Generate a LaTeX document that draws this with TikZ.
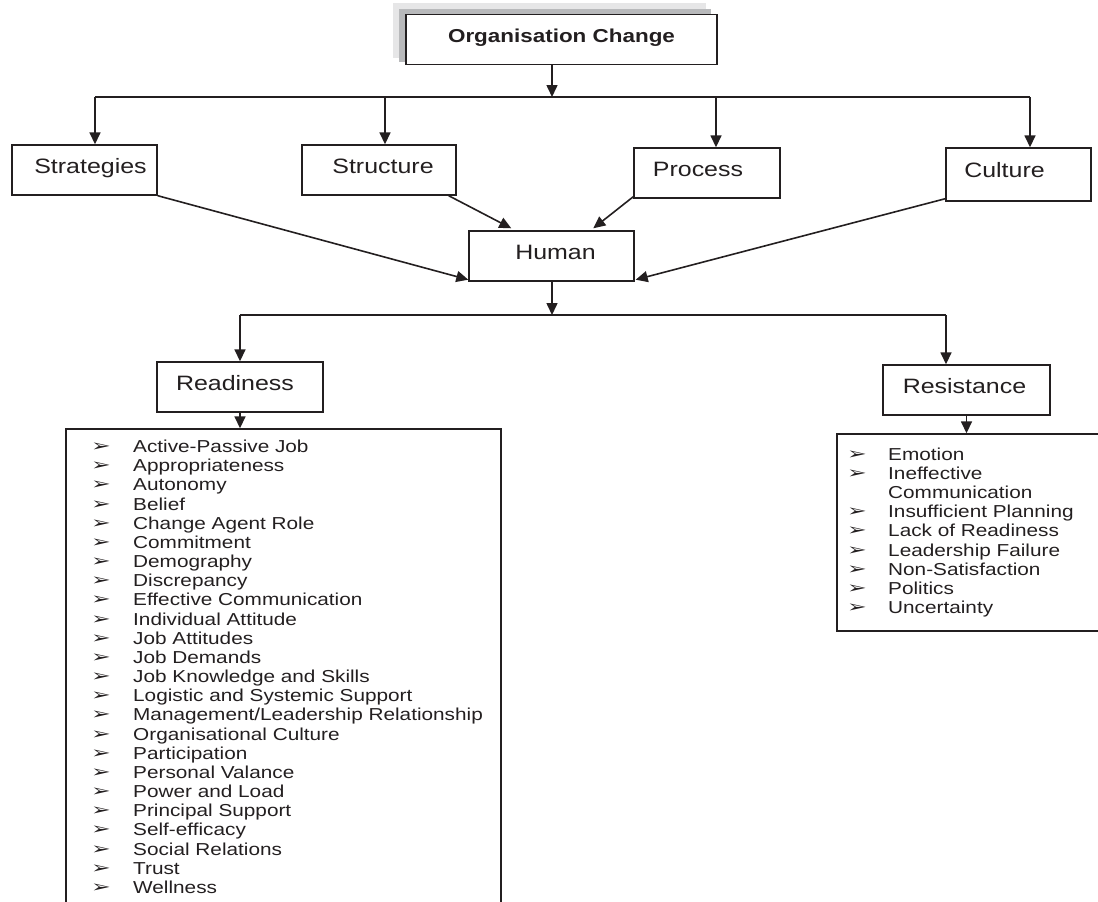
\documentclass[tikz,border=0pt]{standalone}
\usepackage{fontspec}
\setmainfont[FakeStretch=1.2]{Liberation Sans}
\newfontfamily\dingfont[FakeStretch=1.45]{DejaVu Sans}
\usepackage{xcolor}
\usetikzlibrary{positioning, arrows.meta, calc}
\definecolor{ink}{HTML}{231F20}
\definecolor{shadelight}{HTML}{E6E6E7}
\definecolor{shadedark}{HTML}{B8B9BB}
\newcommand{\tick}{{\dingfont\fontsize{16.2}{16.2}\selectfont ➢}}

\tikzset{
  box/.style={draw=ink, line width=1.4pt, fill=white, inner sep=0pt,
    font=\fontsize{20.8}{22}\selectfont, text=ink, text height=16pt, text depth=10pt},
  listbox/.style={draw=ink, line width=1.4pt, inner sep=0pt},
  item/.style={font=\fontsize{17.3}{19}\selectfont, text=ink, anchor=base west,
    inner sep=0pt, text height=13pt, text depth=4pt},
  bullet/.style={text=ink, anchor=base west, inner sep=0pt,
    text height=9pt, text depth=0pt},
  line/.style={draw=ink, line width=1.6pt},
  arr/.style={line, -{Triangle[length=12pt, width=11pt]}}
}

\begin{document}
\begin{tikzpicture}[x=1pt, y=-1pt]
      \useasboundingbox (0, 0) rectangle (1098, 902);

      % Shadow behind the top box
      \fill[shadelight] (393, 3) rectangle (706, 58);
      \fill[shadedark] (399, 9) rectangle (711, 62);

      % Top box
      \node[box, minimum width=311pt, minimum height=50pt,
            font=\bfseries\fontsize{18.7}{20}\selectfont]
        (orgchange) at (561.5, 39.5) {Organisation Change};

      % Second row
      \node[box, minimum width=145pt, minimum height=50pt] (strategies) at (84.5, 170) {\hspace*{12pt}Strategies};
      \node[box, minimum width=154pt, minimum height=50pt] (structure) at (379, 170) {\hspace*{8pt}Structure};
      \node[box, minimum width=146pt, minimum height=50pt] (process) at (707, 173) {Process\hspace*{18pt}};
      \node[box, minimum width=145pt, minimum height=53pt] (culture) at (1018.5, 174.5) {Culture\hspace*{28pt}};

      % Human
      \node[box, minimum width=165pt, minimum height=50pt] (human) at (551.5, 256) {\hspace*{8pt}Human};

      % Bus from top box
      \coordinate (topbus) at (552, 97);
      \coordinate (dropa) at (95, 97);
      \coordinate (dropb) at (385, 97);
      \coordinate (dropc) at (716, 97);
      \coordinate (dropd) at (1030, 97);
      \draw[arr] (topbus |- orgchange.south) -- (topbus);
      \draw[line] (dropa) -- (dropd);
      \draw[arr] (dropa) -- (dropa |- strategies.north);
      \draw[arr] (dropb) -- (dropb |- structure.north);
      \draw[arr] (dropc) -- (dropc |- process.north);
      \draw[arr] (dropd) -- (dropd |- culture.north);

      % Into human
      \draw[arr] (strategies.south east) -- ($(human.south west)+(0,-2)$);
      \draw[arr] ($(structure.south east)+(-8,0)$) -- ($(human.north west)+(43,-2)$);
      \draw[arr] ($(process.south west)+(0,-2)$) -- ($(human.north west)+(125,-2)$);
      \draw[arr] ($(culture.south west)+(0,-3)$) -- ($(human.south east)+(1,-2)$);

      % Readiness and resistance
      \node[box, minimum width=166pt, minimum height=50pt] (readiness) at (240, 387) {Readiness\hspace*{10pt}};
      \node[box, minimum width=167pt, minimum height=50pt] (resistance) at (966.5, 390) {Resistance\hspace*{4pt}};

      \coordinate (midbus) at (552, 315);
      \coordinate (dropl) at (240, 315);
      \coordinate (dropr) at (946, 315);
      \draw[arr] (midbus |- human.south) -- (midbus);
      \draw[line] (dropl) -- (dropr);
      \draw[arr] (dropl) -- (dropl |- readiness.north);
      \draw[arr] (dropr) -- (dropr |- resistance.north);

      % List boxes
      \node[listbox, minimum width=435pt, minimum height=486pt] (readylist) at (283.5, 672) {};
      \node[listbox, minimum width=273pt, minimum height=197pt] (resistlist) at (973.5, 532.5) {};
      \draw[arr] (readiness.south) -- (readylist.north -| readiness.south);
      \draw[arr] (resistance.south) -- (resistlist.north -| resistance.south);

      % Readiness items
      \foreach[count=\i from 0] \itm in {Active-Passive Job, Appropriateness, Autonomy,
          Belief, Change Agent Role, Commitment, Demography, Discrepancy,
          Effective Communication, Individual Attitude, Job Attitudes, Job Demands,
          Job Knowledge and Skills, Logistic and Systemic Support,
          Management/Leadership Relationship, Organisational Culture, Participation,
          Personal Valance, Power and Load, Principal Support, Self-efficacy,
          Social Relations, Trust, Wellness} {
        \node[bullet] (rb\i) at (91, {451.5+19.17*\i}) {\tick};
        \node[item] (ri\i) at (133, {452.5+19.17*\i}) {\itm};
      }

      % Resistance items
      \foreach[count=\i from 0] \itm/\hasb in {Emotion/1, Ineffective/1,
          Communication/0, Insufficient Planning/1, Lack of Readiness/1,
          Leadership Failure/1, Non-Satisfaction/1, Politics/1, Uncertainty/1} {
        \ifnum\hasb=1
          \node[bullet] (sb\i) at (847, {459+19.2*\i}) {\tick};
        \fi
        \node[item] (si\i) at (888, {460+19.2*\i}) {\itm};
      }
    \end{tikzpicture}
\end{document}
